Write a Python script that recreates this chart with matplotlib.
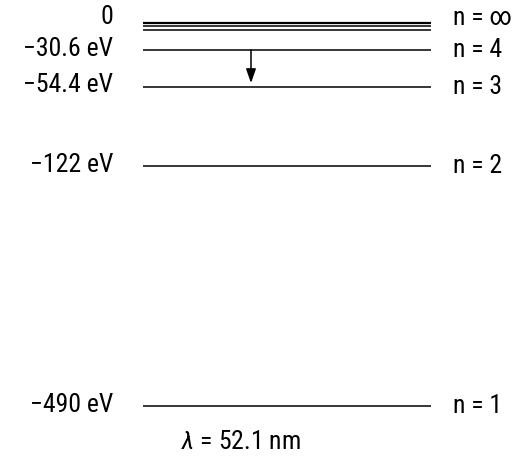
import numpy as np
import matplotlib
matplotlib.use("Agg")
import matplotlib.pyplot as plt

# ---- data ----
level_energies = [0.0, -13.6, -19.6, -30.6, -54.4, -122.0, -490.0]   # eV (top three lines = n=∞ cluster)
left_labels = ["0", "−30.6 eV", "−54.4 eV", "−122 eV", "−490 eV"]
left_label_energies = [0.0, -30.6, -54.4, -122.0, -490.0]
right_labels = ["n = ∞", "n = 4", "n = 3", "n = 2", "n = 1"]
right_label_energies = [0.0, -30.6, -54.4, -122.0, -490.0]
transition = (-30.6, -54.4)   # emission n=4 -> n=3
wavelength_label = r"$\lambda$ = 52.1 nm"

# schematic (non-linear) vertical spacing of the diagram
knot_E = np.array([0.0, 13.6, 19.6, 30.6, 54.4, 122.0, 490.0])
knot_s = np.array([0.0, 3.0, 7.0, 27.5, 64.0, 143.5, 383.5])

def fwd(E):
    return -np.interp(-np.asarray(E, float), knot_E, knot_s)

def inv(s):
    return -np.interp(-np.asarray(s, float), knot_s, knot_E)

plt.rcParams['font.family'] = ['Roboto Condensed', 'DejaVu Sans']
plt.rcParams['mathtext.fontset'] = 'custom'
plt.rcParams['mathtext.rm'] = 'Roboto Condensed'
plt.rcParams['mathtext.it'] = 'Roboto Condensed:italic'

W, H = 512, 458
fig = plt.figure(figsize=(W / 100, H / 100), dpi=100)
top_row, bot_row = 22.5, 406.0
ax = fig.add_axes([0, 1 - bot_row / H, 1, (bot_row - top_row) / H])
ax.set_yscale('function', functions=(fwd, inv))
ax.set_xlim(0, W)
ax.set_ylim(-490, 0)
ax.axis('off')

x0, x1 = 143, 431
for E in level_energies:
    lw = 1.6 if E == 0 else 1.1
    ax.plot([x0, x1], [E, E], color='black', lw=lw, clip_on=False, solid_capstyle='butt')

fs = 18.5
for lab, E in zip(left_labels, left_label_energies):
    dy = 4 if E == 0 else 1
    ax.annotate(lab, (113, E), xytext=(0, dy), textcoords='offset points',
                ha='right', va='center', fontsize=fs, annotation_clip=False)
for lab, E in zip(right_labels, right_label_energies):
    dy = 3 if E == 0 else 0
    ax.annotate(lab, (453, E), xytext=(0, dy), textcoords='offset points',
                ha='left', va='center', fontsize=fs, annotation_clip=False)

ax.annotate("", xy=(251, transition[1]), xytext=(251, transition[0]),
            arrowprops=dict(arrowstyle='-|>,head_length=0.85,head_width=0.3',
                        color='black', lw=1.1, shrinkA=0, shrinkB=2.5),
            annotation_clip=False)

ax.annotate(wavelength_label, (241, -490), xytext=(0, -26), textcoords='offset points',
            ha='center', va='center', fontsize=fs, annotation_clip=False)

fig.savefig("out.png", dpi=100)
